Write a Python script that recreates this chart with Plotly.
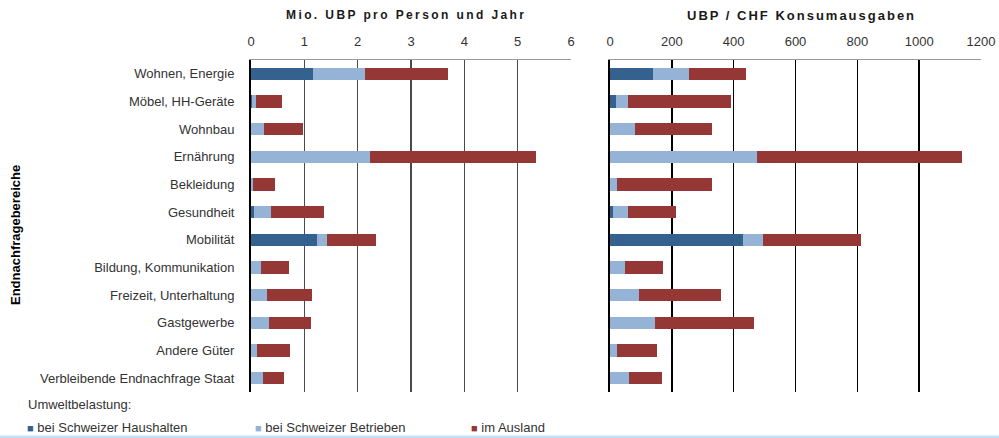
import plotly.graph_objects as go

categories = ["Wohnen, Energie", "Möbel, HH-Geräte", "Wohnbau", "Ernährung", "Bekleidung",
              "Gesundheit", "Mobilität", "Bildung, Kommunikation", "Freizeit, Unterhaltung",
              "Gastgewerbe", "Andere Güter", "Verbleibende Endnachfrage Staat"]

series_names = ["bei Schweizer Haushalten", "bei Schweizer Betrieben", "im Ausland"]

# Mio. UBP pro Person und Jahr
ubp_haushalte = [1.17, 0.02, 0, 0, 0, 0.05, 1.23, 0, 0, 0, 0, 0]
ubp_betriebe = [0.97, 0.07, 0.25, 2.23, 0.03, 0.325, 0.20, 0.19, 0.30, 0.34, 0.11, 0.23]
ubp_ausland = [1.56, 0.50, 0.73, 3.12, 0.42, 0.995, 0.92, 0.53, 0.84, 0.78, 0.62, 0.39]

# UBP / CHF Konsumausgaben
chf_haushalte = [139, 19, 0, 0, 0, 10, 430, 0, 0, 0, 0, 0]
chf_betriebe = [117, 39, 81, 476, 23, 48, 65, 49, 94, 146, 23, 61]
chf_ausland = [184, 334, 249, 663, 307, 156, 317, 123, 265, 320, 129, 107]

left_ticks = [0, 1, 2, 3, 4, 5, 6]
right_ticks = [0, 200, 400, 600, 800, 1000, 1200]

colors = ["#35618F", "#95B3D7", "#953735"]
FONT = "Liberation Sans, Arial, sans-serif"
TXT = "#333333"

fig = go.Figure()
for name, vals, col in zip(series_names, [ubp_haushalte, ubp_betriebe, ubp_ausland], colors):
    fig.add_trace(go.Bar(y=categories, x=vals, orientation="h", name=name,
                         marker=dict(color=col, line=dict(width=0)), width=0.45,
                         xaxis="x", yaxis="y", showlegend=False))
for name, vals, col in zip(series_names, [chf_haushalte, chf_betriebe, chf_ausland], colors):
    fig.add_trace(go.Bar(y=categories, x=vals, orientation="h", name=name,
                         marker=dict(color=col, line=dict(width=0)), width=0.45,
                         xaxis="x2", yaxis="y2", showlegend=False))

W, H = 999, 438
ydom = [1 - 392 / H, 1 - 60 / H]

fig.update_layout(
    width=W, height=H, autosize=False,
    margin=dict(l=0, r=0, t=0, b=0, autoexpand=False),
    paper_bgcolor="white", plot_bgcolor="white",
    barmode="stack", bargap=0.55,
    font=dict(family=FONT, size=13, color=TXT),
    xaxis=dict(domain=[251 / W, 571 / W], range=[0, 6], side="top",
               tickvals=left_ticks, ticktext=[str(t) for t in left_ticks],
               showgrid=True, gridcolor="#4a4a4a", gridwidth=1.3,
               showline=True, linecolor="#9a9a9a", linewidth=1,
               zeroline=False, tickfont=dict(size=13, color=TXT), automargin=False,
               ticks="", ticklabelstandoff=8, fixedrange=True),
    yaxis=dict(domain=ydom, anchor="x", autorange="reversed", automargin=False,
               showline=True, linecolor="black", linewidth=2,
               showgrid=False, zeroline=False, ticks="", fixedrange=True,
               ticklabelstandoff=12, tickfont=dict(size=13, color=TXT)),
    xaxis2=dict(domain=[610 / W, 981 / W], range=[0, 1200], side="top", anchor="y2",
                tickvals=right_ticks, ticktext=[str(t) for t in right_ticks],
                showgrid=True, gridcolor="black", gridwidth=1.6, automargin=False,
                showline=True, linecolor="#9a9a9a", linewidth=1,
                zeroline=False, tickfont=dict(size=13, color=TXT),
                ticks="", ticklabelstandoff=8, fixedrange=True),
    yaxis2=dict(domain=ydom, anchor="x2", autorange="reversed", automargin=False,
                showline=True, linecolor="black", linewidth=2, fixedrange=True,
                showgrid=False, zeroline=False, showticklabels=False, ticks=""),
)

annos = [
    dict(text="<b><span style='letter-spacing:2.4px'>Mio. UBP pro Person und Jahr</span></b>",
         x=406 / W, y=1 - 15 / H, font=dict(size=12, color="#1a1a1a")),
    dict(text="<b><span style='letter-spacing:2px'>UBP / CHF Konsumausgaben</span></b>",
         x=801 / W, y=1 - 15 / H, font=dict(size=13, color="#1a1a1a")),
    dict(text="<b>Endnachfragebereiche</b>", x=15 / W, y=1 - 235 / H, textangle=-90,
         font=dict(size=13, color="black")),
    dict(text="Umweltbelastung:", x=26 / W, y=1 - 404 / H, xanchor="left",
         font=dict(size=13, color=TXT)),
]
legend_x = [25, 253, 469]
for lx, name, col in zip(legend_x, series_names, colors):
    annos.append(dict(text=f"<span style='color:{col};font-size:11px'>■</span> {name}",
                      x=lx / W, y=1 - 427 / H, xanchor="left",
                      font=dict(size=13, color=TXT)))
for a in annos:
    a.setdefault("xanchor", "center")
    a.update(xref="paper", yref="paper", yanchor="middle", showarrow=False)
fig.update_layout(annotations=annos)

fig.add_shape(type="rect", xref="paper", yref="paper", x0=0, x1=1, y0=0, y1=2.5 / H,
              fillcolor="#C6E0F7", line=dict(width=0), layer="above")

fig.write_html("out.html", config={"displayModeBar": False, "staticPlot": True},
               post_script="document.body.style.margin='0';document.body.style.overflow='hidden';")
